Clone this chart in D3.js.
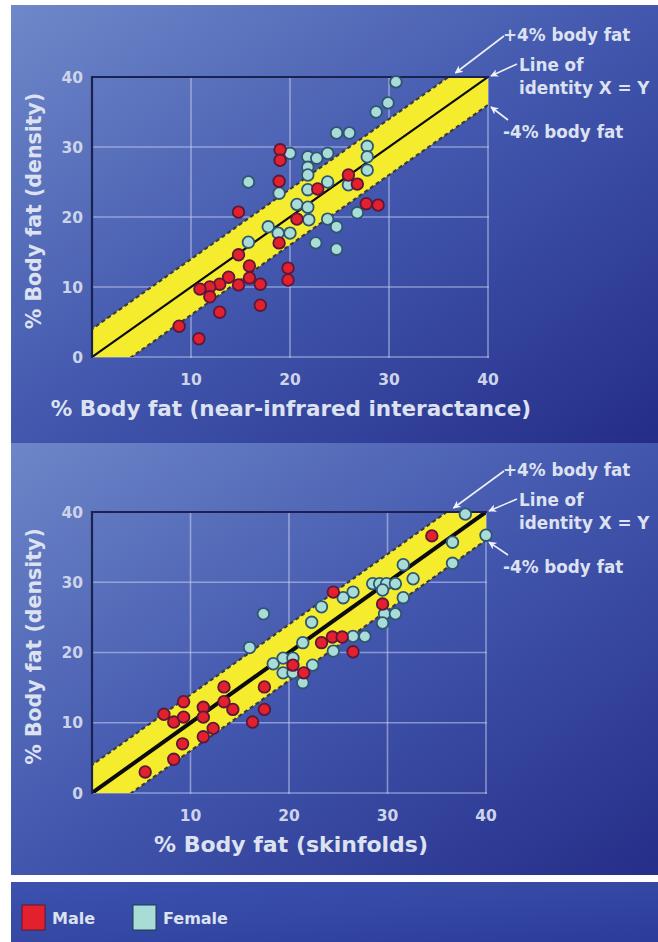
<!DOCTYPE html>
<html><head><meta charset="utf-8">
<script src="https://cdn.jsdelivr.net/npm/d3@7"></script>
<style>html,body{margin:0;padding:0;background:#fff;}svg{display:block;}</style>
</head><body>
<script>
// ---------- DATA ----------
const ticks = [0, 10, 20, 30, 40];
const xTickLabels = ["10", "20", "30", "40"];
const yTickLabels = ["0", "10", "20", "30", "40"];
const bandOffset = 4; // ±4% body fat
const yTitle = "% Body fat (density)";
const xTitleTop = "% Body fat (near-infrared interactance)";
const xTitleBottom = "% Body fat (skinfolds)";
const annotations = ["+4% body fat", "Line of", "identity X = Y", "-4% body fat"];
const legendLabels = ["Male", "Female"];

// Top chart: near-infrared interactance (x) vs density (y)
const nirMale = [[19.0,29.6],[19.0,28.1],[18.9,25.1],[14.8,20.7],[20.7,19.7],[18.9,16.3],[14.8,14.6],[15.9,13.0],[15.9,11.3],[13.8,11.4],[12.9,10.4],[11.9,10.0],[10.9,9.7],[11.9,8.6],[14.8,10.3],[17.0,10.4],[17.0,7.4],[12.9,6.4],[19.8,12.7],[19.8,11.0],[8.8,4.4],[10.8,2.6],[25.9,26.0],[26.8,24.7],[22.8,24.0],[27.7,21.9],[28.9,21.7]];
const nirFemale = [[20.0,29.1],[15.8,25.0],[18.9,23.4],[20.7,21.8],[17.8,18.6],[18.8,17.7],[20.0,17.7],[15.8,16.4],[30.7,39.3],[29.9,36.3],[28.7,35.0],[24.7,32.0],[26.0,32.0],[27.8,30.1],[27.8,28.6],[27.8,26.7],[21.8,28.6],[22.7,28.4],[23.8,29.1],[21.8,27.1],[21.8,26.0],[25.9,24.6],[23.8,25.0],[21.8,23.9],[21.8,21.4],[26.8,20.6],[21.9,19.6],[23.8,19.7],[24.7,18.6],[22.6,16.3],[24.7,15.4]];

// Bottom chart: skinfolds (x) vs density (y)
const skinMale = [[5.4,3.0],[8.3,4.8],[9.2,7.0],[11.3,8.0],[12.3,9.2],[7.3,11.2],[8.3,10.1],[9.3,10.8],[9.3,13.0],[11.3,12.2],[11.3,10.8],[13.4,15.1],[13.4,13.0],[14.3,11.9],[16.3,10.1],[17.5,15.1],[17.5,11.9],[20.4,18.2],[34.5,36.6],[29.5,26.9],[24.5,28.6],[23.3,21.4],[24.4,22.2],[25.4,22.2],[26.5,20.1],[21.5,17.1]];
const skinFemale = [[17.4,25.5],[16.0,20.7],[18.4,18.4],[19.4,19.2],[20.4,19.2],[19.4,17.1],[20.4,17.1],[37.9,39.7],[36.6,35.7],[40.0,36.7],[36.6,32.7],[31.6,32.5],[32.6,30.5],[28.5,29.8],[29.2,29.8],[29.9,29.8],[30.8,29.8],[29.5,28.9],[31.6,27.8],[29.7,25.5],[30.8,25.5],[29.5,24.2],[26.5,28.6],[25.5,27.8],[23.3,26.5],[22.3,24.3],[21.4,21.4],[26.5,22.3],[27.7,22.3],[24.5,20.2],[22.4,18.2],[21.4,15.7]];

// ---------- DRAW ----------
const W = 658, H = 942;
const FONT = "'DejaVu Sans', Verdana, sans-serif";
const TXT = "#dde2f0";
const MALE = "#e2202e", MALE_S = "#5b1838";
const FEMALE = "#a9dcd6", FEMALE_S = "#2d5670";

const svg = d3.select("body").append("svg").attr("width", W).attr("height", H);
const defs = svg.append("defs");

function grad(id, c0, c1, c2) {
  const g = defs.append("linearGradient").attr("id", id)
    .attr("x1", "0%").attr("y1", "0%").attr("x2", "100%").attr("y2", "100%");
  g.append("stop").attr("offset", "0%").attr("stop-color", c0);
  g.append("stop").attr("offset", "50%").attr("stop-color", c1);
  g.append("stop").attr("offset", "100%").attr("stop-color", c2);
}
grad("gTop", "#6f88c9", "#4257ad", "#242d88");
grad("gBot", "#6d86c8", "#4256ad", "#252e88");
grad("gLeg", "#3c52ae", "#3448a4", "#2c3c98");

const mk = defs.append("marker").attr("id", "arrow").attr("viewBox", "0 0 10 10")
  .attr("refX", 9).attr("refY", 5).attr("markerWidth", 5).attr("markerHeight", 5)
  .attr("orient", "auto-start-reverse");
mk.append("path").attr("d", "M0,0 L10,5 L0,10 L3,5 Z").attr("fill", "#f2f4fa");

// panels
svg.append("rect").attr("x", 11).attr("y", 5).attr("width", W - 11).attr("height", 438).attr("fill", "url(#gTop)");
svg.append("rect").attr("x", 11).attr("y", 443).attr("width", W - 11).attr("height", 432).attr("fill", "url(#gBot)");
svg.append("rect").attr("x", 11).attr("y", 882).attr("width", W - 11).attr("height", 60).attr("fill", "url(#gLeg)");

function chart(cfg) {
  const x = d3.scaleLinear().domain([0, 40]).range([cfg.left, cfg.right]);
  const y = d3.scaleLinear().domain([0, 40]).range([cfg.bottom, cfg.top]);
  const g = svg.append("g");
  const cid = "clip" + cfg.id;
  defs.append("clipPath").attr("id", cid).append("rect")
    .attr("x", cfg.left).attr("y", cfg.top)
    .attr("width", cfg.right - cfg.left).attr("height", cfg.bottom - cfg.top);

  // grid lines (light)
  g.selectAll(".gx").data(ticks.slice(1)).join("line")
    .attr("x1", d => x(d)).attr("x2", d => x(d)).attr("y1", cfg.top).attr("y2", cfg.bottom + 1)
    .attr("stroke", "#c8d2f0").attr("stroke-opacity", 0.55).attr("stroke-width", 1.6);
  g.selectAll(".gy").data(ticks.slice(0, 4)).join("line")
    .attr("y1", d => y(d)).attr("y2", d => y(d)).attr("x1", cfg.left).attr("x2", cfg.right + 1)
    .attr("stroke", "#c8d2f0").attr("stroke-opacity", 0.55).attr("stroke-width", 1.6);

  // band
  const bg = g.append("g").attr("clip-path", `url(#${cid})`);
  const lo = -10, hi = 50;
  const bandPts = [[lo, lo + bandOffset], [hi, hi + bandOffset], [hi, hi - bandOffset], [lo, lo - bandOffset]];
  bg.append("path").attr("d", d3.line().x(d => x(d[0])).y(d => y(d[1]))(bandPts) + "Z")
    .attr("fill", "#f4ec2c");
  [bandOffset, -bandOffset].forEach(o => {
    bg.append("line").attr("x1", x(lo)).attr("y1", y(lo + o)).attr("x2", x(hi)).attr("y2", y(hi + o))
      .attr("stroke", "#3a3a44").attr("stroke-width", 2.2).attr("stroke-dasharray", "4,3");
  });
  bg.append("line").attr("x1", x(0)).attr("y1", y(0)).attr("x2", x(40)).attr("y2", y(40))
    .attr("stroke", "#0c0c10").attr("stroke-width", cfg.idWidth).attr("stroke-linecap", "round");

  // frame: dark top and left
  g.append("path").attr("d", `M${cfg.left},${cfg.bottom + 1}V${cfg.top}H${cfg.right + 1}`)
    .attr("fill", "none").attr("stroke", "#1c2250").attr("stroke-width", 2.2);

  // points
  const pg = g.append("g");
  const drawPts = (data, fill, stroke) => pg.append("g").selectAll("circle").data(data).join("circle")
    .attr("cx", d => x(d[0])).attr("cy", d => y(d[1])).attr("r", 5.8)
    .attr("fill", fill).attr("stroke", stroke).attr("stroke-width", 1.8);
  drawPts(cfg.female, FEMALE, FEMALE_S);
  drawPts(cfg.male, MALE, MALE_S);

  // tick labels
  g.selectAll(".yt").data(yTickLabels).join("text")
    .attr("x", cfg.left - 9).attr("y", d => y(+d)).attr("dy", "0.36em")
    .attr("text-anchor", "end").attr("font-family", FONT).attr("font-size", 15.5).attr("font-weight", "bold")
    .attr("fill", "#cdd4ea").text(d => d);
  g.selectAll(".xt").data(xTickLabels).join("text")
    .attr("x", d => x(+d)).attr("y", cfg.bottom + 22).attr("dy", "0.36em")
    .attr("text-anchor", "middle").attr("font-family", FONT).attr("font-size", 15.5).attr("font-weight", "bold")
    .attr("fill", "#cdd4ea").text(d => d);

  // axis titles
  g.append("text").attr("transform", `translate(${cfg.left - 58},${(cfg.top + cfg.bottom) / 2 - 6}) rotate(-90)`)
    .attr("text-anchor", "middle").attr("dy", "0.36em")
    .attr("font-family", FONT).attr("font-size", 20.5).attr("font-weight", "bold").attr("fill", TXT).text(yTitle);
  g.append("text").attr("x", cfg.xTitleX).attr("y", cfg.bottom + 59).attr("text-anchor", "middle")
    .attr("font-family", FONT).attr("font-size", cfg.xTitleSize).attr("font-weight", "bold").attr("fill", TXT).text(cfg.xTitle);

  // annotations
  const ax = 503, at = cfg.top;
  const ann = g.append("g").attr("font-family", FONT).attr("font-size", 16.8).attr("font-weight", "bold").attr("fill", TXT);
  ann.append("text").attr("x", ax).attr("y", at - 42).attr("dy", "0.36em").text(annotations[0]);
  ann.append("text").attr("x", ax + 16).attr("y", at - 12).attr("dy", "0.36em").text(annotations[1]);
  ann.append("text").attr("x", ax + 16).attr("y", at + 11).attr("dy", "0.36em").text(annotations[2]);
  ann.append("text").attr("x", ax).attr("y", at + 55).attr("dy", "0.36em").text(annotations[3]);
  const arr = (x1, y1, x2, y2) => g.append("line").attr("x1", x1).attr("y1", y1).attr("x2", x2).attr("y2", y2)
    .attr("stroke", "#eef0f8").attr("stroke-width", 1.6).attr("marker-end", "url(#arrow)");
  arr(ax + 1, at - 41, x(36.5) + 2, y(40) - 4);
  arr(ax + 14, at - 13, x(40) + 3, y(40) - 1);
  arr(ax + 5, at + 43, x(40) + 3, y(36) + 2);
}

chart({ id: "A", left: 92, right: 488, top: 77, bottom: 357, idWidth: 2.2,
  male: nirMale, female: nirFemale, xTitle: xTitleTop, xTitleX: 291, xTitleSize: 21.5 });
chart({ id: "B", left: 92, right: 486, top: 512, bottom: 793, idWidth: 4,
  male: skinMale, female: skinFemale, xTitle: xTitleBottom, xTitleX: 291, xTitleSize: 22 });

// legend
const lg = svg.append("g").attr("font-family", FONT).attr("font-size", 16).attr("font-weight", "bold").attr("fill", TXT);
const legendColors = [[MALE, "#6a1424"], [FEMALE, "#1d3b4a"]];
const legX = [22, 133];
legendLabels.forEach((lab, i) => {
  lg.append("rect").attr("x", legX[i]).attr("y", 905).attr("width", 23).attr("height", 25)
    .attr("fill", legendColors[i][0]).attr("stroke", legendColors[i][1]).attr("stroke-width", 1);
  lg.append("text").attr("x", legX[i] + 30).attr("y", 918).attr("dy", "0.36em").text(lab);
});
</script>
</body></html>
